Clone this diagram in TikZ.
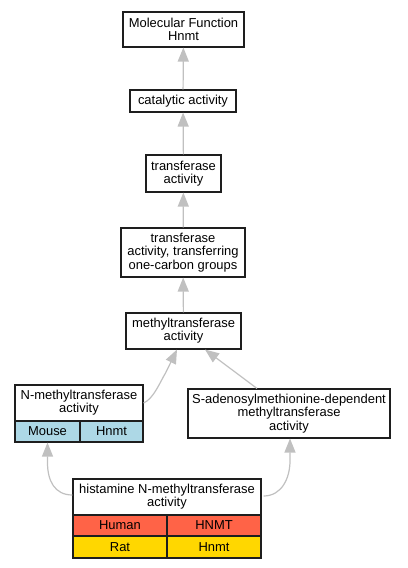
\documentclass[tikz,border=0pt]{standalone}
\usepackage{fontspec}
\setmainfont{Liberation Sans}
\usetikzlibrary{arrows.meta,calc}
\definecolor{edgegray}{RGB}{192,192,192}
\definecolor{boxline}{RGB}{30,30,30}
\definecolor{mouseblue}{RGB}{173,216,230}
\definecolor{humanred}{RGB}{255,99,71}
\definecolor{ratgold}{RGB}{255,215,0}
\tikzset{
  box/.style={draw=boxline, line width=1.1bp, fill=white, align=center, inner sep=0pt,
    font=\fontsize{13}{13.3}\selectfont},
  edge/.style={draw=edgegray, line width=1.2bp, -{Triangle[length=14bp,width=11bp,fill=edgegray]}},
}
\begin{document}
\begin{tikzpicture}[x=1bp,y=-1bp]
\useasboundingbox (0,0) rectangle (407,568);
\node[box, minimum width=121bp, minimum height=35bp] (mf) at (183.5,29.5) {Molecular Function\\Hnmt};
\node[box, minimum width=106bp, minimum height=22bp] (cat) at (183,101) {catalytic activity};
\node[box, minimum width=75bp, minimum height=37bp] (tr) at (183.5,173.5) {transferase\\activity};
\node[box, minimum width=124bp, minimum height=49bp] (toc) at (183,252.5) {transferase\\activity, transferring\\one-carbon groups};
\node[box, minimum width=115bp, minimum height=36bp] (mt) at (183.5,331) {methyltransferase\\activity};
% N-methyltransferase
\node[box, minimum width=128bp, minimum height=36bp] (nm) at (79,403) {N-methyltransferase\\activity};
\node[box, fill=mouseblue, minimum width=65bp, minimum height=21bp] (nmmouse) at (47.5,431.5) {Mouse};
\node[box, fill=mouseblue, minimum width=63bp, minimum height=21bp] (nmhnmt) at (111.5,431.5) {Hnmt};
% S-adenosyl
\node[box, minimum width=202bp, minimum height=49bp] (sam) at (289,413.5) {S-adenosylmethionine-dependent\\methyltransferase\\activity};
% histamine
\node[box, minimum width=188bp, minimum height=36bp] (his) at (167,497) {histamine N-methyltransferase\\activity};
\node[box, fill=humanred, minimum width=94bp, minimum height=21bp] (hhuman) at (120,525.5) {Human};
\node[box, fill=humanred, minimum width=94bp, minimum height=21bp] (hHNMT) at (214,525.5) {HNMT};
\node[box, fill=ratgold, minimum width=94bp, minimum height=22bp] (hrat) at (120,547) {Rat};
\node[box, fill=ratgold, minimum width=94bp, minimum height=22bp] (hhnmt) at (214,547) {Hnmt};
% edges
\draw[edge] (cat) -- (mf);
\draw[edge] (tr) -- (cat);
\draw[edge] (toc) -- (tr);
\draw[edge] (mt) -- (toc);
\draw[edge] (nm.east) .. controls +(10,-4) and +(-5,8) .. ($(nm.east)+(22,-30)$) -- ($(mt.south)+(-6.5,0)$);
\draw[edge] ($(sam.north)+(-32,0)$) -- ($(mt.south)+(21.5,0)$);
\draw[edge] ($(his.west)+(0,-2)$) .. controls +(-18,0) and +(0,18) .. ($(nmmouse.south)+(0,20)$) -- (nmmouse.south);
\draw[edge] ($(his.east)+(2,-1)$) .. controls +(18,0) and +(0,18) .. ($(sam.south)+(1,22)$) -- ($(sam.south)+(1,0)$);
\end{tikzpicture}
\end{document}
